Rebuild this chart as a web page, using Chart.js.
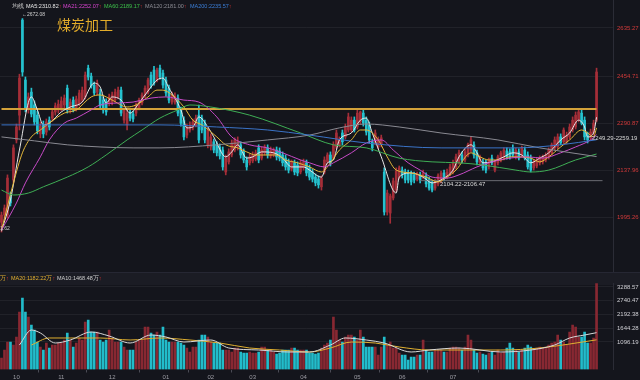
<!DOCTYPE html>
<html><head><meta charset="utf-8">
<script src="https://cdn.jsdelivr.net/npm/chart.js@4.4.1/dist/chart.umd.min.js"></script>
<style>
html,body{margin:0;padding:0;background:#14151c;}
#wrap{position:relative;width:640px;height:380px;overflow:hidden;background:#14151c;font-family:"Liberation Sans",Arial,sans-serif;}
canvas{position:absolute;left:0;}
.t{position:absolute;white-space:nowrap;line-height:1;}
.s{font-size:5.5px;}
.ar{color:#e03030;}
</style></head><body>
<div id="wrap">
 <div style="position:absolute;left:0;top:272px;width:640px;height:12px;background:#1b1c24;border-top:1px solid #262733;"></div>
 <canvas id="pc" width="640" height="272" style="top:0"></canvas>
 <canvas id="vc" width="640" height="108" style="top:272px"></canvas>
 <div class="t s" style="left:12px;top:4px;color:#cfcfcf">均线</div>
 <div class="t s" style="left:26px;top:4px;color:#e8e8e8">MA5:2310.82<span class="ar">↑</span></div>
 <div class="t s" style="left:63px;top:4px;color:#d944d0">MA21:2252.07<span class="ar">↑</span></div>
 <div class="t s" style="left:104px;top:4px;color:#3cc24a">MA60:2189.17<span class="ar">↑</span></div>
 <div class="t s" style="left:145px;top:4px;color:#8d8d95">MA120:2181.00<span class="ar">↑</span></div>
 <div class="t s" style="left:190px;top:4px;color:#3b7fd9">MA200:2235.57<span class="ar">↑</span></div>
 <div class="t" style="left:57px;top:17px;font-size:14px;color:#e3ac2a;font-family:'Noto Sans CJK SC'">煤炭加工</div>
 <div class="t" style="left:22px;top:12px;font-size:5px;color:#d0d0d0">←2672.08</div>
 <div class="t" style="left:0px;top:226px;font-size:5px;color:#d0d0d0">1.62</div>
 <div class="t" style="left:440px;top:181px;font-size:6px;color:#d8d8d8">2104.22-2106.47</div>
 <div class="t" style="left:592px;top:135px;font-size:6px;color:#d8d8d8">2249.29-2259.19</div>
 <div class="t s" style="left:0px;top:276px;color:#e3b030">万<span class="ar">↑</span></div>
 <div class="t s" style="left:11px;top:276px;color:#e3b030">MA20:1182.22万<span class="ar">↑</span></div>
 <div class="t s" style="left:57px;top:276px;color:#cfcfcf">MA10:1468.48万<span class="ar">↑</span></div>
</div>
<script>
const SLOTS = 205;
const open = [1980,2001,2001,2055,2107,2235,2318,2666,2441,2336,
2398,2353,2318,2255,2285,2261,2301,2308,2329,2336,
2343,2353,2412,2336,2370,2343,2356,2370,2381,2484,
2455,2423,2398,2395,2370,2363,2360,2363,2370,2381,
2405,2301,2285,2329,2322,2325,2343,2360,2384,2398,
2459,2477,2441,2484,2466,2441,2412,2363,2363,2377,
2336,2301,2251,2268,2275,2285,2318,2308,2291,2219,
2212,2229,2219,2212,2202,2132,2164,2186,2202,2212,
2219,2196,2170,2161,2167,2173,2209,2176,2193,2209,
2183,2186,2202,2199,2186,2176,2164,2141,2161,2154,
2132,2145,2161,2145,2132,2116,2110,2086,2132,2164,
2186,2176,2212,2219,2258,2245,2268,2268,2301,2278,
2295,2325,2301,2285,2229,2225,2212,2219,2132,2010,
2007,2052,2076,2116,2138,2132,2129,2126,2123,2110,
2123,2116,2120,2107,2098,2082,2095,2104,2129,2116,
2126,2132,2148,2164,2186,2170,2186,2202,2219,2193,
2161,2164,2161,2148,2176,2138,2161,2170,2176,2199,
2196,2209,2180,2196,2186,2202,2186,2176,2145,2151,
2161,2164,2170,2180,2193,2209,2212,2245,2229,2229,
2245,2268,2278,2301,2325,2301,2251,2242,2258,2301];
const high = [2010,2031,2123,2070,2219,2288,2462,2672.08,2452,2395,
2412,2367,2332,2295,2298,2305,2312,2339,2360,2370,
2381,2388,2423,2374,2381,2384,2405,2416,2470,2495,
2466,2434,2441,2409,2381,2374,2391,2398,2409,2416,
2416,2343,2336,2339,2332,2360,2377,2395,2420,2448,
2470,2491,2484,2495,2477,2452,2423,2398,2395,2388,
2346,2312,2288,2295,2305,2318,2353,2318,2301,2275,
2255,2238,2229,2222,2212,2186,2206,2235,2242,2245,
2229,2206,2180,2189,2196,2202,2219,2212,2219,2219,
2212,2209,2212,2209,2196,2186,2173,2170,2170,2164,
2170,2173,2170,2154,2141,2126,2120,2120,2180,2193,
2196,2229,2268,2245,2268,2288,2325,2312,2312,2336,
2332,2336,2312,2295,2238,2268,2245,2251,2145,2076,
2064,2113,2145,2151,2148,2141,2138,2135,2132,2132,
2132,2138,2129,2116,2107,2110,2126,2135,2138,2141,
2157,2170,2189,2202,2196,2206,2225,2245,2229,2202,
2186,2173,2170,2176,2186,2170,2186,2199,2209,2209,
2206,2219,2209,2206,2215,2212,2196,2186,2170,2176,
2183,2186,2193,2209,2225,2245,2255,2255,2275,2261,
2288,2312,2329,2339,2336,2312,2261,2271,2301,2484];
const low = [1951.62,1983,1992,2028,2098,2225,2268,2455,2329,2325,
2312,2285,2255,2242,2242,2251,2268,2298,2318,2325,
2332,2343,2325,2325,2329,2332,2350,2363,2374,2441,
2412,2388,2388,2339,2325,2318,2350,2353,2363,2374,
2315,2291,2268,2298,2295,2315,2336,2353,2377,2391,
2412,2423,2434,2444,2412,2384,2360,2356,2356,2315,
2281,2235,2242,2261,2268,2278,2225,2258,2225,2209,
2202,2193,2183,2173,2138,2123,2157,2180,2196,2202,
2176,2161,2138,2154,2161,2167,2161,2170,2186,2176,
2176,2180,2170,2167,2151,2138,2129,2135,2123,2120,
2126,2138,2120,2107,2101,2089,2082,2076,2126,2157,
2151,2170,2206,2212,2219,2238,2261,2261,2261,2271,
2288,2281,2251,2225,2199,2219,2206,2212,2001,2001,
1977,2046,2070,2110,2113,2098,2098,2092,2098,2104,
2098,2110,2086,2076,2070,2076,2089,2098,2104,2110,
2120,2126,2141,2157,2161,2164,2180,2196,2176,2154,
2154,2138,2129,2141,2154,2132,2154,2164,2170,2173,
2173,2180,2173,2170,2180,2170,2141,2132,2138,2145,
2154,2157,2164,2173,2186,2202,2206,2219,2222,2222,
2238,2261,2271,2295,2285,2235,2225,2235,2251,2295];
const close = [2001,2022,2113,2037,2209,2278,2448,2470,2343,2381,
2322,2295,2265,2281,2255,2295,2278,2329,2350,2356,
2367,2377,2336,2363,2336,2374,2395,2405,2459,2452,
2420,2395,2430,2350,2336,2329,2381,2388,2398,2405,
2325,2336,2325,2308,2305,2353,2370,2388,2412,2441,
2423,2430,2477,2452,2423,2395,2370,2388,2384,2325,
2291,2245,2278,2285,2295,2308,2235,2268,2235,2268,
2245,2202,2193,2183,2148,2176,2196,2225,2235,2232,
2186,2170,2148,2180,2186,2193,2170,2202,2212,2186,
2202,2202,2180,2176,2161,2148,2138,2164,2132,2129,
2161,2164,2129,2116,2110,2098,2092,2113,2170,2186,
2161,2219,2258,2235,2229,2278,2312,2301,2268,2325,
2329,2291,2261,2235,2209,2258,2235,2242,2010,2067,
2058,2104,2135,2145,2123,2107,2107,2101,2107,2126,
2107,2129,2095,2082,2076,2104,2120,2129,2113,2132,
2148,2161,2180,2193,2170,2196,2219,2235,2186,2164,
2180,2145,2138,2170,2161,2164,2180,2193,2202,2180,
2180,2186,2202,2176,2209,2176,2148,2138,2164,2170,
2176,2180,2186,2202,2219,2235,2245,2225,2268,2251,
2278,2301,2318,2329,2291,2245,2235,2261,2291,2470];
const volume = [458,777,1096,1096,977,1295,2292,2850,2292,2093,
1774,1574,1096,897,777,1056,857,977,977,1056,
1056,1176,1455,1176,897,1056,1256,1176,1893,1973,
1495,1495,1495,1176,1096,1176,1574,1256,1096,1096,
1096,897,777,777,777,1096,1176,1176,1694,1694,
1455,1375,1495,1375,1694,1176,1096,1096,1096,1096,
1056,977,857,698,897,897,1176,1375,1375,1295,
1096,1056,1056,1056,777,777,777,698,857,857,
698,658,658,698,658,658,698,897,897,777,
777,698,618,658,777,777,777,857,857,777,
777,777,777,658,658,618,658,857,977,1056,
1176,2093,1574,1176,1096,1295,1375,1375,1295,1176,
1574,1295,897,897,897,897,578,897,1295,977,
1096,857,857,658,578,578,379,498,498,578,
578,1176,777,698,698,777,777,777,698,698,
857,897,897,857,777,897,1375,1176,777,658,
698,618,578,658,698,578,777,658,698,857,
1056,857,777,698,777,857,977,897,777,857,
897,857,897,977,1056,1096,1375,1176,1096,977,
1495,1774,1694,1295,1295,1495,1056,1056,1256,3420];
const monthLabels = ['10','11','12','01','02','03','04','05','06','07'];
const monthIndex = [5,20,37,55,70,84,101,119,134,151];
const priceTicks = [1995.26,2137.96,2290.87,2454.71,2635.27];
const volTicks = [1096.19,1644.28,2192.38,2740.47,3288.57];
const ma5Pts = [[0,1954],[3,2046],[6,2202],[10,2381],[12,2336],[14,2285],[16,2291],[20,2329],[23,2346],[27,2363],[31,2430],[33,2416],[35,2360],[37,2381],[40,2370],[43,2325],[46,2360],[50,2416],[52,2441],[54,2448],[56,2412],[60,2336],[62,2275],[64,2278],[66,2312],[69,2278],[71,2245],[75,2180],[77,2196],[79,2219],[82,2176],[84,2180],[87,2196],[91,2193],[94,2176],[97,2148],[101,2148],[103,2138],[107,2116],[109,2161],[111,2170],[113,2235],[117,2258],[120,2301],[122,2308],[124,2258],[127,2180],[132,2067],[133,2116],[137,2129],[141,2116],[144,2098],[148,2113],[151,2138],[153,2180],[157,2219],[159,2193],[161,2161],[164,2164],[168,2180],[171,2193],[174,2186],[177,2161],[180,2176],[183,2193],[187,2235],[190,2258],[193,2301],[195,2278],[196,2245],[198,2258],[199,2310.82]];
const ma10Pts = [[0,1957],[4,2098],[7,2193],[10,2245],[13,2268],[16,2291],[21,2325],[25,2336],[30,2381],[33,2388],[37,2370],[42,2346],[45,2353],[49,2381],[52,2405],[54,2405],[57,2388],[61,2346],[64,2301],[67,2285],[72,2245],[75,2219],[79,2209],[82,2196],[85,2186],[89,2186],[92,2186],[95,2170],[99,2161],[103,2148],[107,2132],[110,2161],[113,2202],[117,2235],[120,2268],[122,2268],[126,2235],[129,2180],[132,2138],[137,2129],[142,2116],[146,2101],[149,2116],[152,2138],[157,2193],[160,2180],[163,2170],[167,2170],[170,2180],[173,2180],[177,2176],[180,2164],[183,2180],[187,2212],[190,2235],[194,2268],[196,2258],[198,2245],[199,2275]];
const ma21Pts = [[0,1957],[5,2037],[8,2098],[13,2180],[16,2235],[21,2291],[25,2308],[30,2336],[33,2353],[39,2360],[44,2363],[50,2377],[55,2381],[61,2370],[66,2363],[72,2312],[77,2245],[83,2219],[89,2209],[94,2193],[100,2170],[103,2161],[108,2148],[111,2161],[117,2193],[122,2225],[127,2235],[131,2202],[136,2161],[140,2138],[144,2116],[149,2113],[153,2123],[159,2148],[164,2164],[170,2176],[176,2180],[181,2176],[187,2193],[192,2212],[197,2235],[199,2252.07]];
const ma60Pts = [[0,2076],[4,2061],[9,2067],[14,2086],[22,2116],[29,2148],[35,2186],[42,2235],[47,2268],[53,2308],[59,2336],[63,2353],[70,2346],[83,2318],[100,2258],[111,2219],[122,2209],[133,2176],[144,2164],[153,2161],[161,2154],[172,2138],[177,2132],[183,2138],[192,2170],[199,2189.17]];
const ma120Pts = [[0,2245],[11,2232],[22,2219],[33,2212],[44,2209],[53,2209],[72,2219],[89,2235],[103,2251],[113,2275],[122,2288],[133,2278],[147,2258],[166,2235],[180,2209],[199,2181]];
const ma200Pts = [[0,2285],[53,2285],[72,2278],[89,2268],[103,2251],[122,2225],[147,2209],[172,2209],[187,2219],[199,2235.57]];
const levelHigh = [[0,2339],[199,2339]];
const levelLow = [[140,2105],[201,2105]];
const vma10Pts = [[6,977],[10,1574],[13,1455],[18,1056],[23,1176],[30,1495],[36,1335],[43,1056],[50,1375],[55,1295],[61,1096],[70,1176],[76,857],[86,777],[96,698],[103,698],[110,977],[115,1256],[122,1176],[128,1056],[137,698],[143,777],[153,857],[167,698],[177,777],[185,977],[190,1256],[195,1375],[199,1468.48]];
const vma20Pts = [[10,977],[16,1256],[23,1256],[33,1256],[43,1176],[53,1256],[63,1176],[73,1056],[83,857],[93,777],[103,698],[110,857],[117,1096],[125,1056],[133,897],[143,777],[153,777],[167,777],[180,857],[190,1016],[199,1182.22]];

const labels = Array.from({length:SLOTS}, () => '');
monthIndex.forEach((k, j) => labels[k] = monthLabels[j]);
function sparse(pts){ const a = new Array(SLOTS).fill(null); pts.forEach(([i, v]) => a[i] = v); return a; }
const UP = '#a52e38', DN = '#25c2cf', VUP = '#882832', VDN = '#22bccb';
const isUp = open.map((o, i) => close[i] >= o);
const cCol = isUp.map(u => u ? UP : DN);
const vCol = isUp.map(u => u ? VUP : VDN);
function line(data, color, w, order){ return {type:'line', data, borderColor:color, borderWidth:w||1, pointRadius:0, spanGaps:true, cubicInterpolationMode:'monotone', order:order||1}; }
const base = {responsive:false, animation:false, devicePixelRatio:1, plugins:{legend:{display:false}, tooltip:{enabled:false}}};

new Chart(document.getElementById('pc'), {
  type:'bar',
  data:{labels, datasets:[
    line(sparse(levelHigh), '#d4a23a', 2, 2),
    line(sparse(levelLow), '#6a6a72', 1, 2),
    line(sparse(ma200Pts), '#3b74c8'),
    line(sparse(ma120Pts), '#8a8a92'),
    line(sparse(ma60Pts), '#3fae55'),
    line(sparse(ma21Pts), '#c84bc8'),
    line(sparse(ma10Pts), '#e5b93a'),
    line(sparse(ma5Pts), '#e8e8e8'),
    {data: low.map((l, i) => [l, high[i]]), backgroundColor:cCol, barThickness:1, grouped:false, order:11},
    {data: open.map((o, i) => [o, close[i]]), backgroundColor:cCol, barThickness:2, grouped:false, minBarLength:1, order:10}
  ]},
  options:Object.assign({}, base, {
    layout:{padding:0},
    scales:{
      x:{display:false, offset:true},
      y:{type:'logarithmic', position:'right', min:1840.2, max:2746.1, bounds:'data',
        afterBuildTicks:s => { s.ticks = priceTicks.map(v => ({value:v})); },
        afterFit:s => { s.width = 27; s.paddingTop = 0; s.paddingBottom = 0; },
        ticks:{color:'#d03a3a', font:{size:6, family:'Liberation Sans'}, padding:4, callback:v => Number(v).toFixed(2)},
        grid:{color:'rgba(255,255,255,0.06)', drawTicks:false},
        border:{color:'#2b2c36'}}
    }
  })
});

new Chart(document.getElementById('vc'), {
  type:'bar',
  data:{labels, datasets:[
    line(sparse(vma10Pts), '#d8d8d8'),
    line(sparse(vma20Pts), '#e0b030'),
    {data: volume, backgroundColor:vCol, barThickness:2, order:5}
  ]},
  options:Object.assign({}, base, {
    layout:{padding:{top:11}},
    scales:{
      x:{offset:true,
        afterBuildTicks:s => { s.ticks = monthIndex.map(v => ({value:v})); },
        afterFit:s => { s.height = 10.5; s.paddingLeft = 0; s.paddingRight = 0; },
        ticks:{autoSkip:false, maxRotation:0, color:'#9c9ca4', font:{size:6, family:'Liberation Sans'}, padding:1, callback:v => labels[v]},
        grid:{display:true, drawOnChartArea:false, drawTicks:true, tickLength:3, color:'#4a4b55'},
        border:{display:false}},
      y:{position:'right', min:0, max:3448,
        afterBuildTicks:s => { s.ticks = volTicks.map(v => ({value:v})); },
        afterFit:s => { s.width = 27; s.paddingTop = 0; s.paddingBottom = 0; },
        ticks:{color:'#cfcfd4', font:{size:6, family:'Liberation Sans'}, padding:4, callback:v => Number(v).toFixed(2)},
        grid:{color:'rgba(255,255,255,0.06)', drawTicks:false},
        border:{color:'#2b2c36'}}
    }
  })
});
</script>
</body></html>
